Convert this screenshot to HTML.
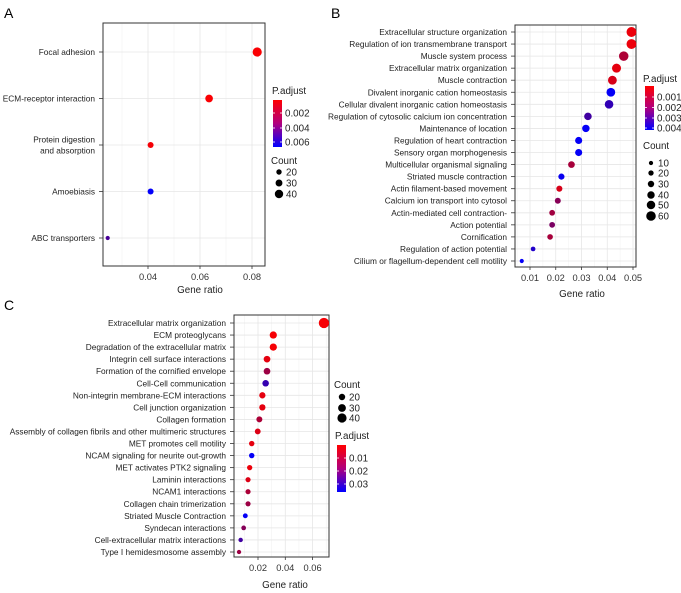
<!DOCTYPE html>
<html><head><meta charset="utf-8"><style>
html,body{margin:0;padding:0;background:#fff}
svg{display:block;font-family:"Liberation Sans",Arial,sans-serif}
</style></head><body>
<svg id="fig" width="681" height="593" viewBox="0 0 681 593" xmlns="http://www.w3.org/2000/svg">
<defs>
<linearGradient id="gA" x1="0" y1="0" x2="0" y2="1"><stop offset="0" stop-color="#ff0000"/><stop offset="0.5" stop-color="#b0007e"/><stop offset="1" stop-color="#0000ff"/></linearGradient>
</defs>
</svg>
<script>
// ---------- Panel A data ----------
const aTerms=["Focal adhesion","ECM-receptor interaction","Protein digestion|and absorption","Amoebiasis","ABC transporters"];
const aRatio=[0.082,0.0635,0.041,0.041,0.0245];
const aCount=[45,35,24,24,12];
const aPadj=[0.0003,0.0003,0.0004,0.0066,0.0045];
const aTicks=[0.04,0.06,0.08];
// ---------- Panel B data ----------
const bTerms=["Extracellular structure organization","Regulation of ion transmembrane transport","Muscle system process","Extracellular matrix organization","Muscle contraction","Divalent inorganic cation homeostasis","Cellular divalent inorganic cation homeostasis","Regulation of cytosolic calcium ion concentration","Maintenance of location","Regulation of heart contraction","Sensory organ morphogenesis","Multicellular organismal signaling","Striated muscle contraction","Actin filament-based movement","Calcium ion transport into cytosol","Actin-mediated cell contraction-","Action potential","Cornification","Regulation of action potential","Cilium or flagellum-dependent cell motility"];
const bRatio=[0.0494,0.0494,0.0464,0.0436,0.042,0.0414,0.0407,0.0325,0.0317,0.0289,0.0289,0.0261,0.0222,0.0214,0.0208,0.0186,0.0186,0.0178,0.0112,0.0068];
const bCount=[63,63,59,55,53,52,51,41,40,37,37,33,28,27,26,24,24,23,14,9];
const bPadj=[0.0003,0.0003,0.0012,0.0004,0.0006,0.0042,0.0033,0.003,0.0042,0.0042,0.0042,0.0013,0.0041,0.0006,0.0018,0.0014,0.002,0.0013,0.0036,0.0042];
const bTicks=[0.01,0.02,0.03,0.04,0.05];
// ---------- Panel C data ----------
const cTerms=["Extracellular matrix organization","ECM proteoglycans","Degradation of the extracellular matrix","Integrin cell surface interactions","Formation of the cornified envelope","Cell-Cell communication","Non-integrin membrane-ECM interactions","Cell junction organization","Collagen formation","Assembly of collagen fibrils and other multimeric structures","MET promotes cell motility","NCAM signaling for neurite out-growth","MET activates PTK2 signaling","Laminin interactions","NCAM1 interactions","Collagen chain trimerization","Striated Muscle Contraction","Syndecan interactions","Cell-extracellular matrix interactions","Type I hemidesmosome assembly"];
const cRatio=[0.0683,0.0312,0.0312,0.0266,0.0266,0.0256,0.0232,0.0232,0.021,0.0198,0.0154,0.0154,0.0139,0.0127,0.0127,0.0127,0.0107,0.0095,0.0073,0.0061];
const cCount=[48,26,26,22,22,21,19,19,17,16,13,13,12,11,11,11,9,8,6,5];
const cPadj=[0.001,0.001,0.001,0.003,0.012,0.027,0.003,0.003,0.01,0.004,0.003,0.035,0.002,0.004,0.01,0.012,0.035,0.015,0.025,0.012];
const cTicks=[0.02,0.04,0.06];

const NS="http://www.w3.org/2000/svg";
const svg=document.getElementById('fig');
function mk(tag,attrs,parent,name,txt){const e=document.createElementNS(NS,tag);for(const k in attrs)e.setAttribute(k,attrs[k]);


if(txt!==undefined)e.textContent=txt;(parent||svg).appendChild(e);return e;}
function col(p,lo,hi){let t=(p-lo)/(hi-lo);t=Math.max(0,Math.min(1,t));
 const r=Math.round(255*(1-t)*(1-0.25*t)), b=Math.round(255*t*(0.7+0.3*t));return `rgb(${r},0,${b})`;}

function panel(o){
 const g=mk('g',{},svg,o.name);
 mk('text',{x:o.letter[0],y:o.letter[1],'font-size':14,fill:'#000'},g,'panel-letter',o.L);
 const [x0,x1,y0,y1]=o.box;
 const X=v=>o.px0+(v-o.v0)*o.k;
 const n=o.terms.length;
 const Y=i=>o.ry0+(n>1?i*(o.ry1-o.ry0)/(n-1):0);
 mk('rect',{x:x0,y:y0,width:x1-x0,height:y1-y0,fill:'#fff'},g,'plot-background');
 for(let i=0;i<o.ticks.length+1;i++){const v=o.ticks[0]+(i-0.5)*(o.ticks[1]-o.ticks[0]);const x=X(v);if(x>x0&&x<x1)mk('line',{x1:x,x2:x,y1:y0,y2:y1,stroke:'#f2f2f2','stroke-width':0.6},g,'minor-gridline');}
 o.ticks.forEach(t=>{const x=X(t);mk('line',{x1:x,x2:x,y1:y0,y2:y1,stroke:'#e6e6e6','stroke-width':0.8},g,'major-gridline');
  mk('line',{x1:x,x2:x,y1:y1,y2:y1+3,stroke:'#333','stroke-width':0.8},g,'x-tick');
  mk('text',{x:x,y:y1+14,'font-size':o.fs+1,'text-anchor':'middle',fill:'#333'},g,'x-tick-label',String(t));});
 o.terms.forEach((t,i)=>{const y=Y(i);mk('line',{x1:x0,x2:x1,y1:y,y2:y,stroke:'#e6e6e6','stroke-width':0.8},g,'y-gridline');
  mk('line',{x1:x0-4,x2:x0,y1:y,y2:y,stroke:'#333','stroke-width':0.8},g,'y-tick');
  const parts=t.split('|');parts.forEach((p,j)=>mk('text',{x:x0-8,y:y+3+(j-(parts.length-1)/2)*11,'font-size':o.fs,'text-anchor':'end',fill:'#222'},g,'y-tick-label',p));});
 mk('rect',{x:x0,y:y0,width:x1-x0,height:y1-y0,fill:'none',stroke:'#333','stroke-width':1},g,'plot-border');
 o.terms.forEach((t,i)=>{mk('circle',{cx:X(o.ratio[i]),cy:Y(i),r:o.rad(o.count[i]),fill:col(o.padj[i],o.plo,o.phi)},g,'dot');});
 mk('text',{x:o.xt[0],y:o.xt[1],'font-size':o.fs+1.5,'text-anchor':'middle',fill:'#222'},g,'x-axis-title','Gene ratio');
 const c=o.cb;
 mk('text',{x:c.tx,y:c.ty,'font-size':o.fs+1.5,fill:'#222'},g,'color-legend-title','P.adjust');
 mk('rect',{x:c.x,y:c.y0,width:9,height:c.y1-c.y0,fill:'url(#gA)'},g,'color-bar');
 c.labels.forEach((l,i)=>{mk('line',{x1:c.x,x2:c.x+2,y1:c.ly[i],y2:c.ly[i],stroke:'#fff','stroke-width':0.8},g,'color-bar-tick');
  mk('line',{x1:c.x+7,x2:c.x+9,y1:c.ly[i],y2:c.ly[i],stroke:'#fff','stroke-width':0.8},g,'color-bar-tick');
  mk('text',{x:c.x+12,y:c.ly[i]+3.5,'font-size':o.fs+1.5,fill:'#222'},g,'color-bar-label',l);});
 const s=o.sz;
 mk('text',{x:s.tx,y:s.ty,'font-size':o.fs+1.5,fill:'#222'},g,'size-legend-title','Count');
 s.vals.forEach((v,i)=>{mk('circle',{cx:s.cx,cy:s.y[i],r:o.rad(v),fill:'#000'},g,'size-legend-dot');
  mk('text',{x:s.cx+7,y:s.y[i]+3.5,'font-size':o.fs+1.5,fill:'#222'},g,'size-legend-label',String(v));});
}
panel({name:'panel-a',L:'A',letter:[4,18],box:[103,265,23,266],terms:aTerms,ratio:aRatio,count:aCount,padj:aPadj,ticks:aTicks,
 px0:148,v0:0.04,k:2600,ry0:52,ry1:238,fs:8.3,rad:c=>1.2+c*0.075,plo:0.0002,phi:0.0067,xt:[200,293],
 cb:{tx:272,ty:94,x:273,y0:100,y1:147,labels:['0.002','0.004','0.006'],ly:[113,128,142]},
 sz:{tx:271,ty:164,cx:279,vals:[20,30,40],y:[172,183,194]}});
panel({name:'panel-b',L:'B',letter:[331,18],box:[515,636,25,267],terms:bTerms,ratio:bRatio,count:bCount,padj:bPadj,ticks:bTicks,
 px0:530,v0:0.01,k:2575,ry0:32,ry1:261,fs:8.3,rad:c=>1.6+c*0.053,plo:0.00005,phi:0.0043,xt:[582,297],
 cb:{tx:643,ty:82,x:645,y0:86,y1:130,labels:['0.001','0.002','0.003','0.004'],ly:[97,107.5,118,128]},
 sz:{tx:643,ty:149,cx:651,vals:[10,20,30,40,50,60],y:[163,173,184,195,205,216]}});
panel({name:'panel-c',L:'C',letter:[4,310],box:[234,329,315,557],terms:cTerms,ratio:cRatio,count:cCount,padj:cPadj,ticks:cTicks,
 px0:258,v0:0.02,k:1365,ry0:323,ry1:552,fs:8.3,rad:c=>1.8+c*0.07,plo:0,phi:0.036,xt:[285,588],
 cb:{tx:335,ty:439,x:337,y0:445,y1:492,labels:['0.01','0.02','0.03'],ly:[458,471,484]},
 sz:{tx:334,ty:388,cx:342,vals:[20,30,40],y:[397,408,418]}});
</script>
</body></html>
